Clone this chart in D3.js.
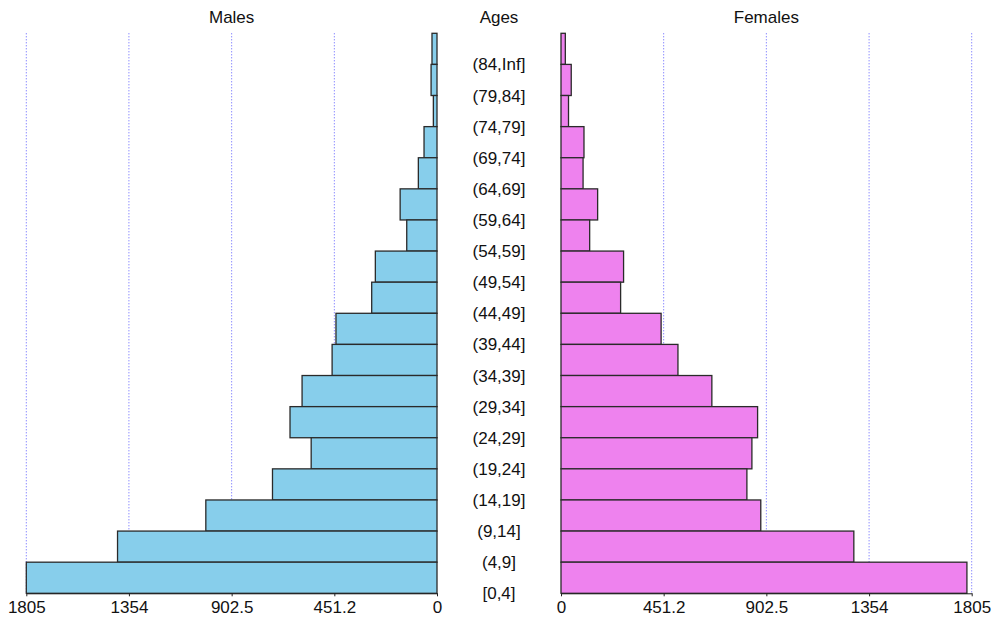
<!DOCTYPE html>
<html>
<head>
<meta charset="utf-8">
<script src="https://cdn.jsdelivr.net/npm/d3@7"></script>
<style>
  html, body { margin: 0; padding: 0; background: #fff; }
  svg { display: block; font-family: "Liberation Sans", Arial, sans-serif; }
</style>
</head>
<body>
<svg id="chart" width="994" height="620"></svg>
<script>
// Data (top to bottom as drawn)
const ages = ["(84,Inf]", "(79,84]", "(74,79]", "(69,74]", "(64,69]", "(59,64]", "(54,59]", "(49,54]", "(44,49]", "(39,44]", "(34,39]", "(29,34]", "(24,29]", "(19,24]", "(14,19]", "(9,14]", "(4,9]", "[0,4]"];
const males   = [22, 26, 16, 57, 82, 162, 133, 271, 287, 444, 461, 593, 646, 553, 723, 1016, 1404, 1805];
const females = [19, 45, 33, 101, 97, 161, 126, 275, 262, 440, 514, 663, 864, 839, 817, 878, 1287, 1784];
const tickValues = [0, 451.2, 902.5, 1354, 1805];
const tickLabels = ["0", "451.2", "902.5", "1354", "1805"];
const gridValues = [451.2, 902.5, 1354, 1805];

const svg = d3.select("#chart");
const yTop = 33.3, yBottom = 593.3;
const fs = 17;

const xL = d3.scaleLinear().domain([0, 1805]).range([437, 26.3]);
const xR = d3.scaleLinear().domain([0, 1805]).range([561, 971.7]);
const y = d3.scaleBand().domain(ages).range([yTop, yBottom]).padding(0);

// grid lines
const gridG = svg.append("g");
[xL, xR].forEach(sc => {
  gridG.selectAll(null).data(gridValues).enter().append("line")
    .attr("x1", d => sc(d)).attr("x2", d => sc(d))
    .attr("y1", yTop).attr("y2", yBottom)
    .attr("stroke", "#5c5cff").attr("stroke-width", 1)
    .attr("stroke-dasharray", "1,2");
});

// bars
svg.append("g").selectAll("rect").data(ages).enter().append("rect")
  .attr("x", (d, i) => xL(males[i]))
  .attr("y", d => y(d))
  .attr("width", (d, i) => xL(0) - xL(males[i]))
  .attr("height", y.bandwidth())
  .attr("fill", "#87CEEB").attr("stroke", "#2a2a2a").attr("stroke-width", 1.3);

svg.append("g").selectAll("rect").data(ages).enter().append("rect")
  .attr("x", xR(0))
  .attr("y", d => y(d))
  .attr("width", (d, i) => xR(females[i]) - xR(0))
  .attr("height", y.bandwidth())
  .attr("fill", "#EE82EE").attr("stroke", "#2a2a2a").attr("stroke-width", 1.3);

// axes
function drawAxis(sc) {
  const g = svg.append("g").attr("transform", `translate(0,${yBottom})`)
    .call(d3.axisBottom(sc).tickValues(tickValues)
      .tickFormat((d, i) => tickLabels[i]).tickSize(3).tickSizeOuter(0).tickPadding(5));
  g.select(".domain").attr("stroke", "#222").attr("stroke-width", 1);
  g.selectAll(".tick line").attr("stroke", "#222");
  g.selectAll("text").attr("font-size", fs).attr("fill", "#111")
    .attr("font-family", "'Liberation Sans', Arial, sans-serif");
}
drawAxis(xL);
drawAxis(xR);

// age labels (at lower edge of each band)
svg.append("g").selectAll("text").data(ages).enter().append("text")
  .attr("x", 499)
  .attr("y", d => y(d) + y.bandwidth() + 6)
  .attr("text-anchor", "middle")
  .attr("font-size", fs).attr("fill", "#111")
  .text(d => d);

// titles
const titles = [["Males", (26.3 + 437) / 2], ["Ages", 499], ["Females", (561 + 971.7) / 2]];
svg.append("g").selectAll("text").data(titles).enter().append("text")
  .attr("x", d => d[1]).attr("y", 23)
  .attr("text-anchor", "middle").attr("font-size", fs).attr("fill", "#111")
  .text(d => d[0]);
</script>
</body>
</html>
